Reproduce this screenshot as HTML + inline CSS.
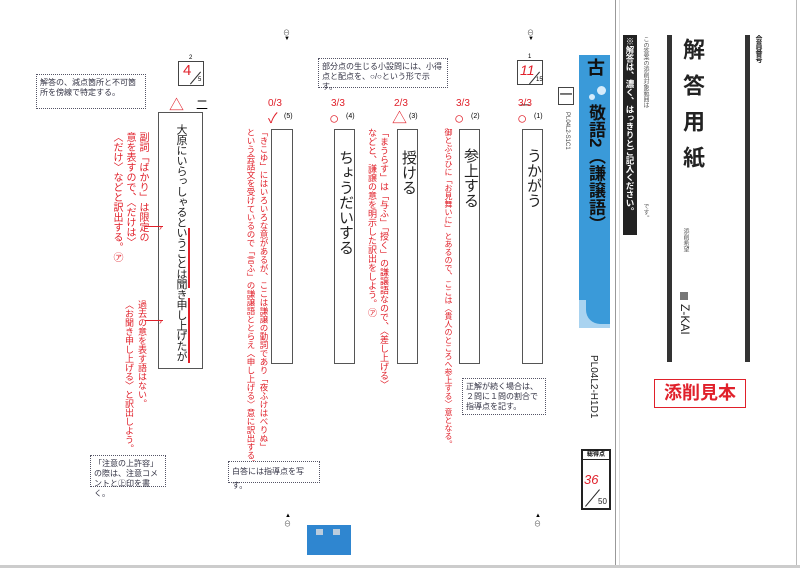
<!DOCTYPE html>
<html><head><meta charset="utf-8"><style>
body{margin:0;width:800px;height:568px;background:#fff;position:relative;overflow:hidden;font-family:"Liberation Sans","Noto Sans CJK JP",sans-serif;}
div{position:absolute;box-sizing:border-box;}
.v{writing-mode:vertical-rl;white-space:nowrap;}
.box{border:1.5px solid #555;background:#fff;}
.ans{font-size:15px;color:#222;line-height:20px;}
.red{color:#e0202a;font-size:9px;line-height:12px;}
.note{border:1px dotted #556;color:#334;font-size:8px;line-height:10px;padding:3px 3px;background:#fff;}
.sc{color:#e0202a;font-size:10px;}
.ci{color:#e0202a;font-size:17px;line-height:17px;}
</style></head><body>
<div style="left:615px;top:0;width:1px;height:568px;background:#999"></div>
<div style="left:619px;top:0;width:1px;height:568px;background:#ddd"></div>
<div style="left:796px;top:0;width:1px;height:568px;background:#bbb"></div>
<div style="left:0;top:565px;width:800px;height:3px;background:#ccc"></div>

<div style="left:667px;top:35px;width:5px;height:327px;background:#333"></div>
<div style="left:745px;top:35px;width:5px;height:327px;background:#333"></div>
<div class="v" style="left:676px;top:38px;font-size:22px;font-weight:bold;letter-spacing:14px;color:#222">解答用紙</div>
<div class="v" style="left:753px;top:35px;font-size:7px;font-weight:bold;color:#222">会員番号</div>
<div class="v" style="left:623px;top:35px;width:14px;height:200px;background:#222;color:#fff;font-size:8.5px;font-weight:bold;padding-top:2px;line-height:14px">※解答は、濃く、はっきりとご記入ください。</div>
<div class="v" style="left:641px;top:36px;font-size:6px;color:#555">この答案の添削対象範囲は</div>
<div class="v" style="left:641px;top:203px;font-size:6px;color:#555">です。</div>
<div class="v" style="left:681px;top:228px;font-size:6px;color:#555">添削希望</div>
<div style="left:680px;top:292px;width:8px;height:8px;background:#777"></div>
<div class="v" style="left:678px;top:304px;font-size:12px;color:#222;text-orientation:sideways">Z-KAI</div>
<div style="left:654px;top:379px;width:92px;height:29px;border:1.5px solid #e0202a;color:#e0202a;font-size:18px;font-weight:bold;text-align:center;line-height:26px">添削見本</div>

<div style="left:579px;top:55px;width:31px;height:273px;background:#3a9ad9;border-bottom-left-radius:16px"></div>
<div style="left:579px;top:300px;width:31px;height:28px;background:#a9d3f0"></div>
<div style="left:586px;top:294px;width:24px;height:30px;background:#3a9ad9;border-bottom-left-radius:14px"></div>
<div class="v" style="left:584px;top:58px;font-size:18px;font-weight:bold;color:#111;line-height:22px">古</div>
<div class="v" style="left:584px;top:104px;font-size:17px;font-weight:bold;color:#111;line-height:22px">敬語2（謙譲語）</div>
<div style="left:597px;top:86px;width:9px;height:9px;border-radius:50%;background:#d6ecfb"></div>
<div style="left:589px;top:94px;width:6px;height:6px;border-radius:50%;background:#d6ecfb"></div>
<div style="left:558px;top:87px;width:16px;height:18px;border:1.5px solid #444;font-size:13px;text-align:center;line-height:13px">一</div>
<div class="v" style="left:564px;top:112px;font-size:6px;color:#444;text-orientation:sideways">PL04L2-S1C1</div>
<div class="v" style="left:588px;top:355px;font-size:10px;color:#222;text-orientation:sideways">PL04L2-H1D1</div>
<div style="left:581px;top:449px;width:30px;height:61px;border:2px solid #222;"></div>
<div style="left:583px;top:451px;width:26px;height:9px;border-bottom:1px solid #222;font-size:6px;font-weight:bold;text-align:center;line-height:8px">総得点</div>
<div style="left:584px;top:472px;font-size:13px;color:#e0202a;font-style:italic">36</div>
<div style="left:592px;top:487px;width:1px;height:22px;background:#222;transform:rotate(40deg)"></div>
<div style="left:598px;top:497px;font-size:8px;color:#222">50</div>

<div style="left:517px;top:60px;width:26px;height:25px;border:1.5px solid #444"></div>
<div style="left:520px;top:62px;font-size:14px;color:#e0202a;font-style:italic">11</div>
<div style="left:534px;top:70px;width:1px;height:16px;background:#333;transform:rotate(40deg)"></div>
<div style="left:536px;top:77px;font-size:6px">15</div>
<div style="left:528px;top:54px;font-size:6px">1</div>
<div style="left:178px;top:61px;width:26px;height:25px;border:1.5px solid #444"></div>
<div style="left:183px;top:62px;font-size:15px;color:#e0202a">4</div>
<div style="left:195px;top:70px;width:1px;height:16px;background:#333;transform:rotate(40deg)"></div>
<div style="left:198px;top:77px;font-size:6px">5</div>
<div style="left:189px;top:55px;font-size:6px">2</div>
<div style="left:196px;top:96px;font-size:12px">二</div>
<div style="left:169px;top:94px;font-size:15px;color:#e0202a">△</div>

<div class="box" style="left:522px;top:129px;width:21px;height:235px"></div>
<div class="box" style="left:459px;top:129px;width:21px;height:235px"></div>
<div class="box" style="left:397px;top:129px;width:21px;height:235px"></div>
<div class="box" style="left:334px;top:129px;width:21px;height:235px"></div>
<div class="box" style="left:271px;top:129px;width:22px;height:235px"></div>
<div class="box" style="left:158px;top:112px;width:45px;height:257px"></div>
<div class="v ans" style="left:523px;top:148px">うかがう</div>
<div class="v ans" style="left:460px;top:148px">参上する</div>
<div class="v ans" style="left:398px;top:150px">授ける</div>
<div class="v ans" style="left:335px;top:150px">ちょうだいする</div>
<div class="v ans" style="left:171px;top:124px;font-size:11px;line-height:20px;letter-spacing:-0.7px">大原にいらっしゃるということは聞き申し上げたが</div>
<div style="left:188px;top:228px;width:1.5px;height:60px;background:#e0202a"></div>
<div style="left:188px;top:298px;width:1.5px;height:65px;background:#e0202a"></div>

<div style="left:520px;top:97px;font-size:10px">一</div>
<div style="left:534px;top:113px;font-size:7px">(1)</div>
<div style="left:471px;top:113px;font-size:7px">(2)</div>
<div style="left:409px;top:113px;font-size:7px">(3)</div>
<div style="left:346px;top:113px;font-size:7px">(4)</div>
<div style="left:284px;top:113px;font-size:7px">(5)</div>
<div class="sc" style="left:518px;top:98px">3/3</div>
<div class="ci" style="left:517px;top:110px">○</div>
<div class="sc" style="left:456px;top:98px">3/3</div>
<div class="ci" style="left:454px;top:110px">○</div>
<div class="sc" style="left:394px;top:98px">2/3</div>
<div class="ci" style="left:392px;top:110px;font-size:15px">△</div>
<div class="sc" style="left:331px;top:98px">3/3</div>
<div class="ci" style="left:329px;top:110px">○</div>
<div class="sc" style="left:268px;top:98px">0/3</div>
<div class="ci" style="left:268px;top:110px;font-size:14px">✓</div>

<div class="v red" style="left:442px;top:128px;font-size:8px;line-height:13px">御とぶらひに「お見舞いに」とあるので、ここは〈貴人のところへ参上する〉意となる。</div>
<div class="v red" style="left:366px;top:128px">「まうらす」は「与ふ」「授く」の謙譲語なので、〈差し上げる〉<br>などと、謙譲の意を明示した訳出をしよう。㋐</div>
<div class="v red" style="left:244px;top:128px;font-size:8.5px;line-height:13px">「きこゆ」にはいろいろな意があるが、ここは謙譲の動詞であり「夜ふけはべりぬ」<br>という会話文を受けているので「言ふ」の謙譲語ととらえ〈申し上げる〉意に訳出する。</div>
<div class="v red" style="left:110px;top:132px;font-size:10px;line-height:13px">副詞「ばかり」は限定の<br>意を表すので、〈だけは〉<br>〈だけ〉などと訳出する。㋐</div>
<div class="v red" style="left:122px;top:300px;font-size:9px;line-height:13px">過去の意を表す語はない。<br>〈お聞き申し上げる〉と訳出しよう。</div>
<div style="left:145px;top:226px;width:18px;height:1px;background:#e0202a"></div>
<div style="left:159px;top:222px;color:#e0202a;font-size:9px">›</div>
<div style="left:145px;top:320px;width:18px;height:1px;background:#e0202a"></div>
<div style="left:159px;top:316px;color:#e0202a;font-size:9px">›</div>

<div class="note" style="left:36px;top:74px;width:110px;height:35px">解答の、減点箇所と不可箇所を傍線で特定する。</div>
<div class="note" style="left:318px;top:58px;width:130px;height:30px">部分点の生じる小設問には、小得点と配点を、○/○という形で示す。</div>
<div class="note" style="left:462px;top:378px;width:84px;height:37px">正解が続く場合は、２問に１問の割合で指導点を記す。</div>
<div class="note" style="left:228px;top:461px;width:92px;height:22px;line-height:14px">白答には指導点を写す。</div>
<div class="note" style="left:90px;top:455px;width:76px;height:32px">「注意の上許容」の際は、注意コメントと㊤印を書く。</div>

<div style="left:527px;top:28px;font-size:7px;color:#555">⊖</div><div style="left:528px;top:36px;font-size:6px">▼</div>
<div style="left:283px;top:28px;font-size:7px;color:#555">⊖</div><div style="left:284px;top:36px;font-size:6px">▼</div>
<div style="left:285px;top:513px;font-size:6px">▲</div><div style="left:284px;top:519px;font-size:7px;color:#555">⊖</div>
<div style="left:535px;top:513px;font-size:6px">▲</div><div style="left:534px;top:519px;font-size:7px;color:#555">⊖</div>
<div style="left:307px;top:525px;width:44px;height:30px;background:#2f86d0"></div>
<div style="left:316px;top:529px;width:7px;height:6px;background:#bcd"></div>
<div style="left:333px;top:529px;width:7px;height:6px;background:#bcd"></div>
</body></html>
